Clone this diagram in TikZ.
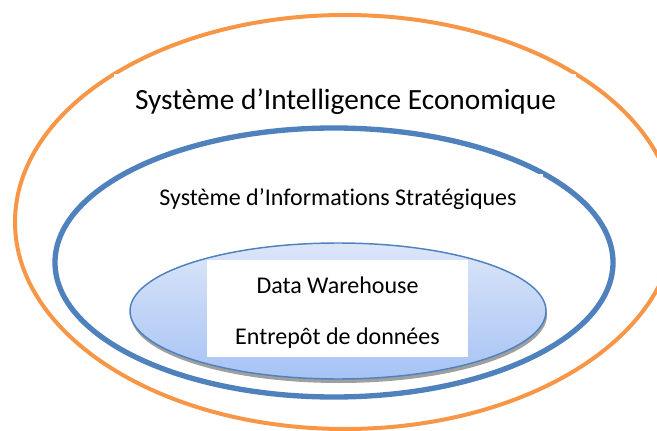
\documentclass[tikz,border=0pt]{standalone}
\usepackage{fontspec}
\setmainfont{Carlito}[Ligatures=NoCommon]
\usepackage{tikz}

\definecolor{sieorange}{HTML}{F79646}
\definecolor{sisblue}{HTML}{4F81BD}
\definecolor{dwtop}{HTML}{DCE6F9}
\definecolor{dwbottom}{HTML}{A6C3F4}

\tikzset{
  lbl/.style={anchor=base, inner sep=0pt, text=black},
  mask/.style={fill=white, draw=none}
}

\begin{document}
\begin{tikzpicture}[x=0.75pt,y=-0.75pt]
    \useasboundingbox (0,0) rectangle (657,431);
    \draw [sieorange, line width=3pt] (345,222) ellipse [x radius=330, y radius=207];
    \fill [mask] (114,74) rectangle (576,124);
    \node (sie) at (345.5,110) [lbl, font=\fontsize{22}{26}\selectfont] {Système d’Intelligence Economique};
    \draw [sisblue, line width=4pt] (334,262.5) ellipse [x radius=279, y radius=134.5];
    \fill [mask] (150,174) rectangle (543,214);
    \node (sis) at (338,206) [lbl, font=\fontsize{18}{22}\selectfont] {Système d’Informations Stratégiques};
    \fill [gray!75] (339,315) ellipse [x radius=208, y radius=68];
    \shade [top color=dwtop, bottom color=dwbottom, draw=sisblue, line width=1.1pt] (338,311) ellipse [x radius=208, y radius=68];
    \fill [mask] (207,260) rectangle (468,357);
    \node (dw) at (337.5,293) [lbl, font=\fontsize{18}{22}\selectfont] {Data Warehouse};
    \node (edd) at (337.5,344) [lbl, font=\fontsize{18}{22}\selectfont] {Entrepôt de données};
\end{tikzpicture}
\end{document}
